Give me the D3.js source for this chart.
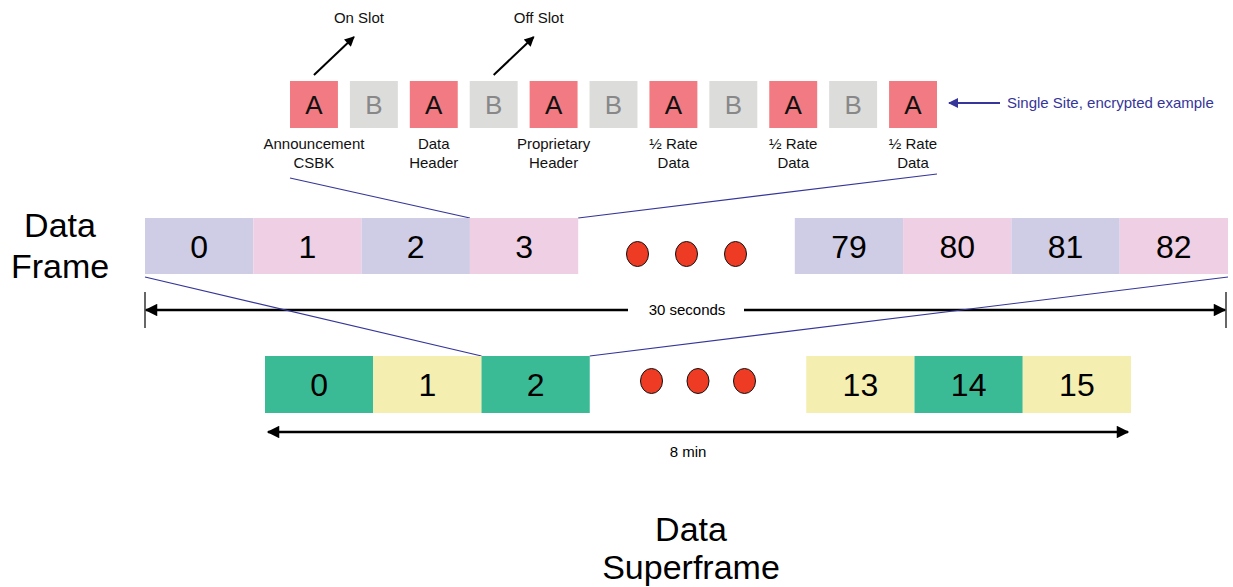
<!DOCTYPE html>
<html lang="en">
<head>
    <meta charset="UTF-8">
    <title>Data Frame / Superframe</title>
    <style>
        body { margin: 0; background: #fff; }
        text { font-family: "Liberation Sans", Arial, sans-serif; }
    </style>
    <script src="https://d3js.org/d3.v7.min.js"></script>
</head>
<body>
    <div id="chart"></div>
    <script>
        const width = 1233;
        const height = 587;

        // data
        const slots = ["A", "B", "A", "B", "A", "B", "A", "B", "A", "B", "A"];
        const slotLabels = [
            ["Announcement", "CSBK"], null, ["Data", "Header"], null,
            ["Proprietary", "Header"], null, ["\u00bd Rate", "Data"], null,
            ["\u00bd Rate", "Data"], null, ["\u00bd Rate", "Data"]
        ];
        const frameNumbers = ["0", "1", "2", "3", "gap1", "gap2", "79", "80", "81", "82"];
        const superNumbers = ["0", "1", "2", "gap1", "gap2", "13", "14", "15"];
        const slotArrows = [{ slot: 0, label: "On Slot" }, { slot: 3, label: "Off Slot" }];
        const frameSpan = "30 seconds";
        const superSpan = "8 min";
        const note = "Single Site, encrypted example";

        const slotColor = { A: "#f27a82", B: "#dcdcdb" };
        const slotText = { A: "#111", B: "#888" };
        const frameColors = ["#cfcce6", "#efcfe3"];
        const superColors = ["#3bbb95", "#f4efb0"];
        const dotColor = "#ee3b24";
        const blue = "#35359a";
        const small = 15;   // small label size
        const big = 34;     // row title size

        const svg = d3.select("#chart").append("svg")
            .attr("width", width)
            .attr("height", height);

        const defs = svg.append("defs");
        const marker = (id, color) => defs.append("marker")
            .attr("id", id)
            .attr("viewBox", "0 0 10 10")
            .attr("refX", 9).attr("refY", 5)
            .attr("markerWidth", 6).attr("markerHeight", 5)
            .attr("markerUnits", "strokeWidth")
            .attr("orient", "auto-start-reverse")
            .append("path")
            .attr("d", "M0,0 L10,5 L0,10 z")
            .attr("fill", color);
        marker("arrowBlack", "#000");
        marker("arrowBlue", blue);

        // ---- slot row
        const xSlot = d3.scaleBand()
            .domain(d3.range(slots.length))
            .range([290, 937])
            .paddingInner(0.2)
            .paddingOuter(0);
        const slotY = 81, slotH = 47;

        const slotG = svg.append("g");
        slotG.selectAll("rect")
            .data(slots)
            .join("rect")
            .attr("x", (d, i) => xSlot(i))
            .attr("y", slotY)
            .attr("width", xSlot.bandwidth())
            .attr("height", slotH)
            .attr("fill", d => slotColor[d]);
        slotG.selectAll("text.slot")
            .data(slots)
            .join("text")
            .attr("class", "slot")
            .attr("x", (d, i) => xSlot(i) + xSlot.bandwidth() / 2)
            .attr("y", slotY + slotH / 2)
            .attr("dy", "0.36em")
            .attr("text-anchor", "middle")
            .attr("font-size", 26)
            .attr("fill", d => slotText[d])
            .text(d => d);

        slotLabels.forEach((lab, i) => {
            if (!lab) return;
            const t = svg.append("text")
                .attr("x", xSlot(i) + xSlot.bandwidth() / 2)
                .attr("y", 149)
                .attr("text-anchor", "middle")
                .attr("font-size", small)
                .attr("fill", "#111");
            lab.forEach((s, k) => t.append("tspan")
                .attr("x", xSlot(i) + xSlot.bandwidth() / 2)
                .attr("dy", k === 0 ? 0 : 19)
                .text(s));
        });

        slotArrows.forEach(a => {
            const x0 = xSlot(a.slot) + xSlot.bandwidth() / 2;
            svg.append("line")
                .attr("x1", x0).attr("y1", 75)
                .attr("x2", x0 + 40).attr("y2", 37)
                .attr("stroke", "#000").attr("stroke-width", 2)
                .attr("marker-end", "url(#arrowBlack)");
            svg.append("text")
                .attr("x", x0 + 45).attr("y", 23)
                .attr("text-anchor", "middle")
                .attr("font-size", small)
                .attr("fill", "#111")
                .text(a.label);
        });

        // note arrow
        svg.append("line")
            .attr("x1", 1000).attr("y1", 103)
            .attr("x2", 949).attr("y2", 103)
            .attr("stroke", blue).attr("stroke-width", 2)
            .attr("marker-end", "url(#arrowBlue)");
        svg.append("text")
            .attr("x", 1007).attr("y", 108)
            .attr("font-size", small)
            .attr("fill", blue)
            .text(note);

        // ---- frame row
        const xFrame = d3.scaleBand().domain(frameNumbers).range([145, 1228]);
        const frameY = 218, frameH = 56;
        const frameCells = frameNumbers.filter(d => !d.startsWith("gap"));

        // zoom lines: slots -> frame 3
        svg.append("line")
            .attr("x1", xSlot(0)).attr("y1", 178)
            .attr("x2", xFrame("3")).attr("y2", frameY)
            .attr("stroke", blue).attr("stroke-width", 1.2);
        svg.append("line")
            .attr("x1", xSlot(slots.length - 1) + xSlot.bandwidth()).attr("y1", 174)
            .attr("x2", xFrame("3") + xFrame.bandwidth()).attr("y2", frameY)
            .attr("stroke", blue).attr("stroke-width", 1.2);

        svg.selectAll("rect.frame")
            .data(frameCells)
            .join("rect")
            .attr("class", "frame")
            .attr("x", d => xFrame(d))
            .attr("y", frameY)
            .attr("width", xFrame.bandwidth())
            .attr("height", frameH)
            .attr("fill", (d, i) => frameColors[i % 2]);
        svg.selectAll("text.frame")
            .data(frameCells)
            .join("text")
            .attr("class", "frame")
            .attr("x", d => xFrame(d) + xFrame.bandwidth() / 2)
            .attr("y", frameY + frameH / 2)
            .attr("dy", "0.36em")
            .attr("text-anchor", "middle")
            .attr("font-size", 32)
            .attr("fill", "#000")
            .text(d => d);

        const drawDots = (cx, cy, step) => {
            svg.append("g").selectAll("ellipse")
                .data([-1, 0, 1])
                .join("ellipse")
                .attr("cx", d => cx + d * step)
                .attr("cy", cy)
                .attr("rx", 11).attr("ry", 12.5)
                .attr("fill", dotColor)
                .attr("stroke", "#111").attr("stroke-width", 1);
        };
        drawDots(xFrame("gap2"), frameY + 36, 49);

        svg.append("text")
            .attr("text-anchor", "middle")
            .attr("font-size", big)
            .selectAll("tspan")
            .data(["Data", "Frame"])
            .join("tspan")
            .attr("x", 60)
            .attr("y", (d, i) => 237 + i * 41)
            .text(d => d);

        // 30 seconds dimension
        const dimY = 310;
        svg.append("line").attr("x1", 145).attr("x2", 145).attr("y1", 292).attr("y2", 328)
            .attr("stroke", "#000").attr("stroke-width", 1.2);
        svg.append("line").attr("x1", 1226).attr("x2", 1226).attr("y1", 292).attr("y2", 328)
            .attr("stroke", "#000").attr("stroke-width", 1.2);
        svg.append("line").attr("x1", 628).attr("x2", 146).attr("y1", dimY).attr("y2", dimY)
            .attr("stroke", "#000").attr("stroke-width", 2.5)
            .attr("marker-end", "url(#arrowBlack)");
        svg.append("line").attr("x1", 744).attr("x2", 1225).attr("y1", dimY).attr("y2", dimY)
            .attr("stroke", "#000").attr("stroke-width", 2.5)
            .attr("marker-end", "url(#arrowBlack)");
        svg.append("text").attr("x", 687).attr("y", dimY + 5)
            .attr("text-anchor", "middle").attr("font-size", small).text(frameSpan);

        // ---- superframe row
        const xSuper = d3.scaleBand().domain(superNumbers).range([265, 1131]);
        const superY = 356, superH = 57;
        const superCells = superNumbers.filter(d => !d.startsWith("gap"));

        svg.append("line")
            .attr("x1", xFrame("0")).attr("y1", frameY + frameH + 3)
            .attr("x2", xSuper("2")).attr("y2", superY)
            .attr("stroke", blue).attr("stroke-width", 1.2);
        svg.append("line")
            .attr("x1", xFrame("82") + xFrame.bandwidth()).attr("y1", frameY + frameH + 3)
            .attr("x2", xSuper("2") + xSuper.bandwidth()).attr("y2", superY)
            .attr("stroke", blue).attr("stroke-width", 1.2);

        svg.selectAll("rect.super")
            .data(superCells)
            .join("rect")
            .attr("class", "super")
            .attr("x", d => xSuper(d))
            .attr("y", superY)
            .attr("width", xSuper.bandwidth())
            .attr("height", superH)
            .attr("fill", d => superColors[+d % 2]);
        svg.selectAll("text.super")
            .data(superCells)
            .join("text")
            .attr("class", "super")
            .attr("x", d => xSuper(d) + xSuper.bandwidth() / 2)
            .attr("y", superY + superH / 2)
            .attr("dy", "0.36em")
            .attr("text-anchor", "middle")
            .attr("font-size", 32)
            .attr("fill", "#000")
            .text(d => d);

        drawDots(xSuper("gap2"), superY + 25, 46.5);

        svg.append("line").attr("x1", 268).attr("x2", 1128).attr("y1", 432).attr("y2", 432)
            .attr("stroke", "#000").attr("stroke-width", 2.5)
            .attr("marker-start", "url(#arrowBlack)")
            .attr("marker-end", "url(#arrowBlack)");
        svg.append("text").attr("x", 688).attr("y", 457)
            .attr("text-anchor", "middle").attr("font-size", small).text(superSpan);

        svg.append("text")
            .attr("text-anchor", "middle")
            .attr("font-size", big)
            .selectAll("tspan")
            .data(["Data", "Superframe"])
            .join("tspan")
            .attr("x", 691)
            .attr("y", (d, i) => 541 + i * 38)
            .text(d => d);
    </script>
</body>
</html>
